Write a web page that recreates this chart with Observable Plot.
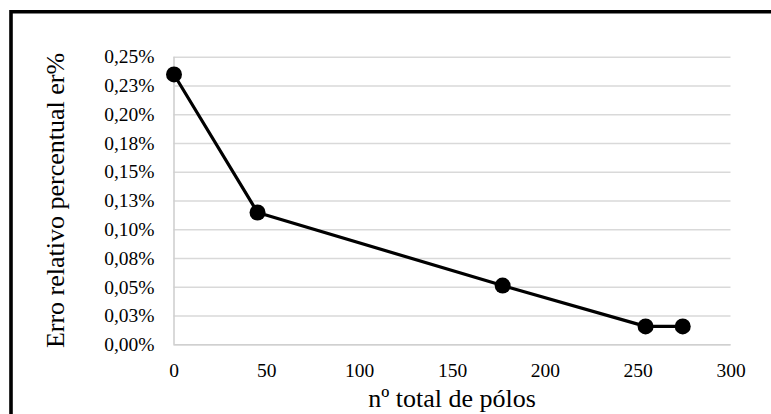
<!DOCTYPE html>
<html>
<head>
<meta charset="utf-8">
<script src="https://cdn.jsdelivr.net/npm/d3@7"></script>
<script src="https://cdn.jsdelivr.net/npm/@observablehq/plot@0.6"></script>
<style>
  html, body { margin: 0; padding: 0; background: #fff; overflow: hidden; }
</style>
</head>
<body>
<div id="wrap"></div>
<script>
// Data
const poles = [0, 45, 177, 254, 274];            // nº total de pólos
const errPct = [0.235, 0.115, 0.0515, 0.016, 0.016]; // erro relativo percentual (%)
const xTicks = [0, 50, 100, 150, 200, 250, 300];
const yTicks = [0, 0.025, 0.05, 0.075, 0.1, 0.125, 0.15, 0.175, 0.2, 0.225, 0.25];
const yTickLabels = ["0,00%", "0,03%", "0,05%", "0,08%", "0,10%", "0,13%", "0,15%", "0,18%", "0,20%", "0,23%", "0,25%"];
const xTitle = "nº total de pólos";
const yTitle = "Erro relativo percentual er%";

const FONT = "'Liberation Serif', 'Times New Roman', Tinos, 'DejaVu Serif', serif";
const data = poles.map((p, i) => ({x: p, y: errPct[i]}));

const plot = Plot.plot({
  width: 771,
  height: 414,
  marginLeft: 173.5,
  marginRight: 40.5,
  marginTop: 56.7,
  marginBottom: 69.7,
  style: {background: "transparent", color: "#000"},
  x: {domain: [0, 300]},
  y: {domain: [0, 0.25]},
  marks: [
    Plot.gridY(yTicks, {stroke: "#d9d9d9", strokeOpacity: 1, strokeWidth: 1.6}),
    Plot.ruleY([0], {stroke: "#d0d0d0", strokeWidth: 1.6}),
    Plot.ruleX([0], {stroke: "#d0d0d0", strokeWidth: 1.6}),
    Plot.axisX({ticks: xTicks, tickSize: 0, tickPadding: 18.5, fontSize: 19.5, label: null, tickFormat: d => String(d)}),
    Plot.axisY({ticks: yTicks, tickSize: 0, tickPadding: 19.5, fontSize: 19.5, label: null,
      tickFormat: d => yTickLabels[yTicks.findIndex(t => Math.abs(t - d) < 1e-9)]}),
    Plot.line(data, {x: "x", y: "y", stroke: "#000", strokeWidth: 3.2}),
    Plot.dot(data, {x: "x", y: "y", r: 8, fill: "#000", stroke: "none"})
  ]
});

const svg = d3.select(plot);
// outer chart border (only top and left edges are visible in the crop)
svg.append("path")
  .attr("d", "M11,420V11.8H780")
  .attr("fill", "none")
  .attr("stroke", "#000")
  .attr("stroke-width", 3.6);
svg.append("text")
  .attr("transform", "translate(64,200.5) rotate(-90)")
  .attr("text-anchor", "middle")
  .attr("font-size", 26)
  .attr("fill", "#000")
  .text(yTitle);
svg.append("text")
  .attr("x", 452)
  .attr("y", 406.7)
  .attr("text-anchor", "middle")
  .attr("font-size", 26)
  .attr("fill", "#000")
  .text(xTitle);

plot.style.fontFamily = FONT;
svg.selectAll("g").style("font-family", FONT);
svg.selectAll("text").style("font-family", FONT);
document.getElementById("wrap").appendChild(plot);
</script>
</body>
</html>
